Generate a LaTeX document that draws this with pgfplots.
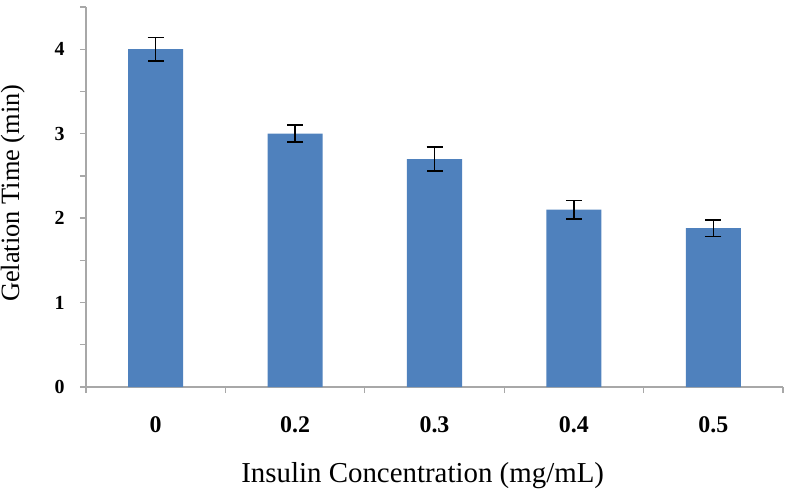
\documentclass[border=0pt]{standalone}
\usepackage{fontspec}
\setmainfont{Liberation Serif}
\usepackage{pgfplots}
\pgfplotsset{compat=1.18}
\usetikzlibrary{calc}
\definecolor{barblue}{HTML}{4F81BD}
\definecolor{axgray}{HTML}{A8A8A8}
\begin{document}
\begin{tikzpicture}
\begin{axis}[
  scale only axis,
  width=697bp, height=380bp,
  xmin=-0.5, xmax=4.5,
  ymin=0, ymax=4.5,
  axis lines*=left,
  axis line style={axgray, line width=1.5pt},
  tick style={axgray, line width=1.3pt},
  tick align=outside,
  xtick={0,1,2,3,4},
  xticklabels={0,0.2,0.3,0.4,0.5},
  major x tick style={draw=none},
  minor xtick={-0.5,0.5,1.5,2.5,3.5,4.5},
  ytick={0,1,2,3,4},
  minor ytick={0.5,1.5,2.5,3.5,4.5},
  major tick length=6bp, minor tick length=6bp,
  /pgf/number format/assume math mode=true,
  yticklabel style={font=\fontsize{20}{20}\selectfont\bfseries, xshift=-12bp},
  xticklabel style={font=\fontsize{24}{24}\selectfont\bfseries, yshift=-20bp},
  xlabel={Insulin Concentration (mg/mL)},
  ylabel={Gelation Time (min)},
  xlabel style={font=\fontsize{29}{31}\selectfont, at={(axis description cs:0.483,-0.234)}, anchor=center},
  ylabel style={font=\fontsize{26.5}{28}\selectfont, at={(axis description cs:-0.105,0.51)}, anchor=center},
]
\addplot[ybar, bar width=0.395, fill=barblue, draw=none,
  error bars/.cd, y dir=both, y explicit,
  error bar style={black, line width=1.5pt},
  error mark options={rotate=90, mark size=8bp, line width=1.5pt, black}]
  coordinates {
    (0,4.00) +- (0,0.14)
    (1,3.00) +- (0,0.10)
    (2,2.70) +- (0,0.14)
    (3,2.10) +- (0,0.11)
    (4,1.88) +- (0,0.10)
  };
\end{axis}
\pgfresetboundingbox
\path ($(current axis.south west)+(-86bp,-104bp)$) rectangle ($(current axis.north east)+(16bp,7bp)$);
\end{tikzpicture}
\end{document}
